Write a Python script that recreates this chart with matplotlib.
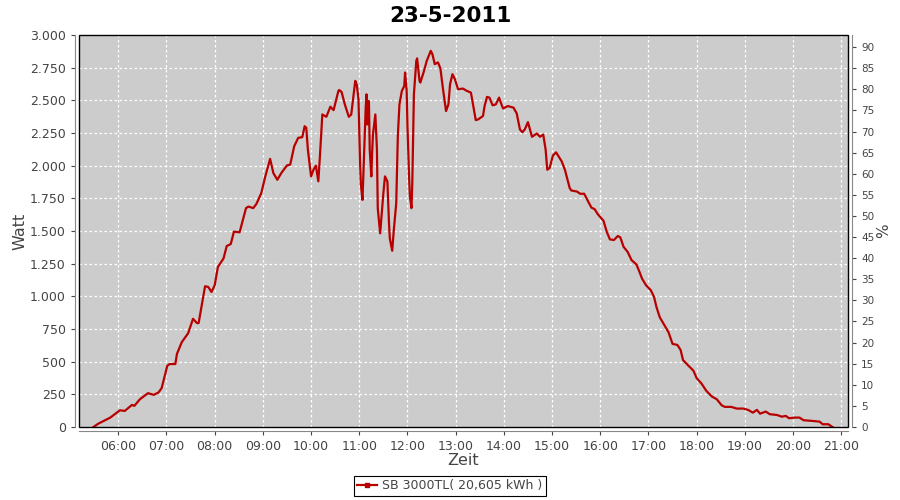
import matplotlib
matplotlib.use("Agg")
import matplotlib.pyplot as plt
from matplotlib.ticker import FuncFormatter, MultipleLocator
from matplotlib.lines import Line2D
from matplotlib.patches import Rectangle

# data (time, watt)
zeit = ["05:29", "05:35", "05:50", "06:02", "06:08", "06:17", "06:20", "06:27", "06:37", "06:44",
        "06:50", "06:54", "07:01", "07:04", "07:11", "07:13", "07:19", "07:27", "07:33", "07:38",
        "07:40", "07:48", "07:52", "07:56", "08:00", "08:04", "08:11", "08:15", "08:20", "08:24",
        "08:31", "08:39", "08:42", "08:48", "08:52", "08:58", "09:03", "09:09", "09:13", "09:18",
        "09:23", "09:30", "09:34", "09:39", "09:44", "09:49", "09:52", "09:54", "09:56", "10:00",
        "10:03", "10:06", "10:09", "10:11", "10:14", "10:19", "10:24", "10:28", "10:34", "10:35",
        "10:38", "10:42", "10:47", "10:50", "10:55", "10:57", "10:59", "11:01", "11:02", "11:04",
        "11:06", "11:08", "11:09", "11:10", "11:12", "11:13", "11:15", "11:16", "11:17", "11:20",
        "11:22", "11:23", "11:26", "11:28", "11:30", "11:32", "11:35", "11:37", "11:38", "11:41",
        "11:43", "11:46", "11:48", "11:50", "11:53", "11:56", "11:57", "11:59", "12:00", "12:02",
        "12:03", "12:05", "12:06", "12:08", "12:11", "12:12", "12:15", "12:16", "12:20", "12:24",
        "12:29", "12:31", "12:34", "12:38", "12:41", "12:44", "12:46", "12:48", "12:51", "12:53",
        "12:56", "12:59", "13:03", "13:09", "13:14", "13:19", "13:22", "13:25", "13:28", "13:34",
        "13:36", "13:39", "13:42", "13:46", "13:50", "13:54", "13:57", "13:59", "14:05", "14:12",
        "14:16", "14:20", "14:23", "14:26", "14:30", "14:35", "14:41", "14:45", "14:49", "14:52",
        "14:54", "14:57", "15:01", "15:05", "15:12", "15:16", "15:22", "15:24", "15:31", "15:35",
        "15:40", "15:45", "15:49", "15:53", "15:57", "16:04", "16:08", "16:12", "16:17", "16:22",
        "16:25", "16:29", "16:34", "16:39", "16:45", "16:48", "16:52", "16:57", "17:03", "17:07",
        "17:10", "17:14", "17:20", "17:25", "17:30", "17:36", "17:40", "17:43", "17:49", "17:56",
        "18:00", "18:06", "18:12", "18:19", "18:25", "18:31", "18:35", "18:43", "18:50", "18:58",
        "19:04", "19:10", "19:15", "19:19", "19:26", "19:31", "19:40", "19:46", "19:51", "19:55",
        "20:02", "20:08", "20:13", "20:25", "20:33", "20:37", "20:44", "20:49"]
watt = [0, 25, 72, 128, 123, 169, 162, 213, 259, 246,
        264, 298, 469, 482, 482, 559, 649, 718, 828, 795,
        795, 1077, 1072, 1033, 1085, 1225, 1290, 1385, 1400, 1495,
        1490, 1675, 1687, 1675, 1708, 1790, 1918, 2052, 1944, 1892,
        1944, 2002, 2008, 2149, 2213, 2218, 2302, 2290, 2123, 1918,
        1969, 2000, 1880, 2072, 2392, 2374, 2451, 2425, 2572, 2579,
        2564, 2469, 2374, 2392, 2649, 2615, 2508, 2021, 1854, 1738,
        2098, 2444, 2546, 2315, 2495, 2123, 1918, 2098, 2238, 2392,
        2123, 1675, 1482, 1636, 1790, 1918, 1880, 1559, 1444, 1349,
        1508, 1713, 2226, 2469, 2572, 2610, 2713, 2572, 2302, 1918,
        1764, 1675, 1867, 2546, 2802, 2821, 2649, 2636, 2713, 2802,
        2879, 2854, 2777, 2790, 2744, 2597, 2508, 2418, 2469, 2623,
        2700, 2662, 2585, 2590, 2572, 2559, 2456, 2349, 2354, 2380,
        2456, 2526, 2521, 2462, 2469, 2521, 2469, 2438, 2456, 2444,
        2400, 2277, 2256, 2277, 2333, 2221, 2246, 2221, 2238, 2123,
        1969, 1982, 2077, 2102, 2033, 1969, 1828, 1810, 1802, 1785,
        1785, 1725, 1679, 1667, 1628, 1579, 1495, 1436, 1431, 1462,
        1451, 1379, 1341, 1277, 1244, 1200, 1136, 1085, 1046, 995,
        918, 841, 777, 725, 636, 628, 590, 513, 474, 431,
        374, 333, 277, 233, 213, 167, 154, 154, 141, 141,
        131, 110, 131, 102, 118, 98, 92, 79, 85, 67,
        72, 72, 52, 46, 41, 21, 21, 0]

titel = "23-5-2011"
legende = "SB 3000TL( 20,605 kWh )"
stunden = list(range(6, 22))

x = [int(z[:2]) + int(z[3:]) / 60 for z in zeit]

plt.rcParams['font.family'] = ['DejaVu Sans']
fig = plt.figure(figsize=(9, 5), dpi=100)
fig.patch.set_facecolor("white")
ax = fig.add_axes([0.0878, 0.146, 0.8544, 0.784])
ax.set_facecolor("#cccccc")

ax.plot(x, watt, color="#b80000", linewidth=1.6, zorder=3)

ax.set_xlim(5.185, 21.14)
ax.set_ylim(0, 3000)
ax.set_xticks(stunden)
ax.xaxis.set_major_formatter(FuncFormatter(lambda v, p: "%02d:00" % int(round(v))))
ax.yaxis.set_major_locator(MultipleLocator(250))
ax.yaxis.set_major_formatter(FuncFormatter(lambda v, p: "{:,}".format(int(v)).replace(",", ".")))
ax.grid(True, color="white", linestyle=(0, (2, 2)), linewidth=0.9)
ax.set_axisbelow(True)

# gray axis lines set a little outside the plot, black border round the plot
ax.tick_params(colors="#444444", labelsize=9, length=3, width=0.8)
for s in ["left", "bottom"]:
    ax.spines[s].set_color("#888888")
    ax.spines[s].set_position(("outward", 3))
ax.spines["top"].set_visible(False)
ax.spines["right"].set_visible(False)
ax.add_patch(Rectangle((0, 0), 1, 1, transform=ax.transAxes, fill=False,
                       edgecolor="black", linewidth=1.0, zorder=5, clip_on=False))

ax.set_xlabel("Zeit", fontsize=11.5, color="#444444", labelpad=0)
ax.set_ylabel("Watt", fontsize=11.5, color="#444444", labelpad=2)

ax2 = ax.twinx()
ax2.set_ylim(0, 92.86)
ax2.yaxis.set_major_locator(MultipleLocator(5))
ax2.tick_params(colors="#444444", labelsize=7.5, length=3, width=0.8)
for s in ["left", "top", "bottom"]:
    ax2.spines[s].set_visible(False)
ax2.spines["right"].set_color("#888888")
ax2.spines["right"].set_position(("outward", 3))
ax2.set_ylabel("%", fontsize=11, color="#444444", labelpad=1)

fig.suptitle(titel, fontsize=15.5, fontweight="bold", y=0.988)

h = Line2D([], [], color="#b80000", linewidth=1.6, marker="s", markersize=2.5)
leg = fig.legend([h], [legende], loc="lower center", bbox_to_anchor=(0.5, 0.0),
                 fancybox=False, edgecolor="black", framealpha=1, fontsize=9,
                 handlelength=1.6, handletextpad=0.4, borderpad=0.3, borderaxespad=0.3)
leg.get_frame().set_linewidth(0.8)
for t in leg.get_texts():
    t.set_color("#444444")

plt.savefig("out.png", dpi=100)
